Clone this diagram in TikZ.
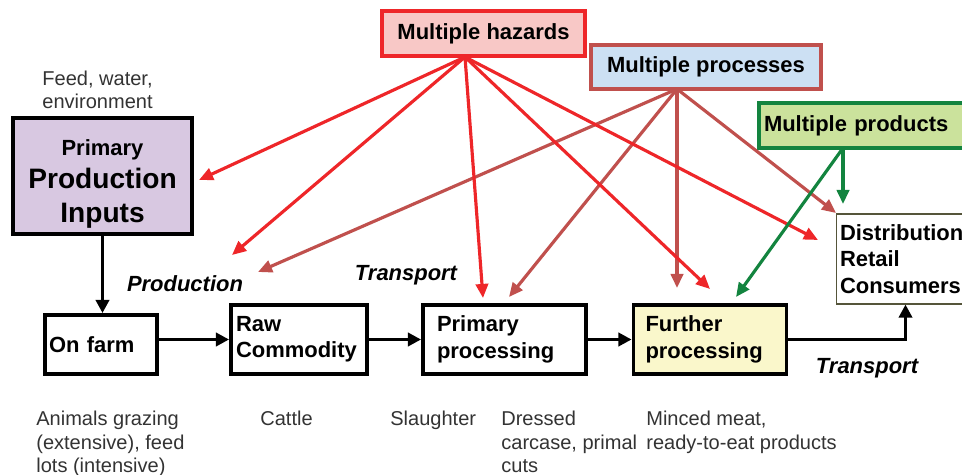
\documentclass[tikz,border=0pt]{standalone}
\usepackage{fontspec}
\setmainfont{Liberation Sans}
\usepackage{tikz}
\usetikzlibrary{arrows.meta}
\definecolor{hazardRed}{HTML}{EE2629}
\definecolor{hazardPink}{HTML}{F8C8C6}
\definecolor{processRed}{HTML}{C0504D}
\definecolor{processBlue}{HTML}{CCE0F3}
\definecolor{productGreen}{HTML}{13843F}
\definecolor{productLime}{HTML}{CBE29C}
\definecolor{inputLilac}{HTML}{D8C8E1}
\definecolor{furtherYellow}{HTML}{FAF7CB}
\definecolor{noteGrey}{HTML}{333333}
\definecolor{retailLine}{HTML}{55553A}

\begin{document}
\begin{tikzpicture}[x=0.02cm, y=-0.02cm,
  boxfont/.style={font=\fontsize{12.5}{15}\selectfont\bfseries},
  stage/.style={boxfont, draw=black, line width=2.2pt, align=left, minimum height=1.38cm},
  tag/.style={boxfont, minimum height=0.9cm},
  note/.style={font=\fontsize{11.4}{13.3}\selectfont, text=noteGrey, align=left, anchor=north west, inner sep=0pt},
  leg/.style={font=\fontsize{12.5}{15}\selectfont\bfseries\itshape},
  flow/.style={line width=2.2pt, -{Triangle[length=7.5pt,width=7.5pt]}},
  hz/.style={hazardRed, line width=1.8pt, -{Triangle[length=8pt,width=7pt]}},
  pr/.style={processRed, line width=1.8pt, -{Triangle[length=8pt,width=7pt]}},
  pd/.style={productGreen, line width=1.8pt, -{Triangle[length=8pt,width=7pt]}}]
  \useasboundingbox (0,0) rectangle (962,475);
  \clip (0,0) rectangle (962,475);

  % boxes of the chain
  \node[stage, fill=inputLilac, align=center, minimum width=3.58cm, minimum height=2.24cm] (inputs) at (102.5,176)
    {\rule{0pt}{18pt}Primary\\[4pt]{\fontsize{16}{19}\selectfont Production}\\[4pt]{\fontsize{16}{19}\selectfont Inputs}};
  \node[stage, minimum height=1.18cm, inner xsep=0.08cm, text width=2.08cm] (farm) at (101,344.5) {On farm};
  \node[stage, inner xsep=0.1cm, text width=2.52cm] (raw) at (299,339.5) {Raw\\Commodity};
  \node[stage, inner xsep=0.28cm, text width=2.7cm] (primary) at (504.5,339.5) {Primary\\processing};
  \node[stage, fill=furtherYellow, inner xsep=0.24cm, text width=2.58cm] (further) at (710,339.5) {Further\\processing};
  \node[boxfont, draw=retailLine, line width=0.6pt, fill=white, align=left, minimum height=1.8cm,
    inner xsep=0.08cm, text width=2.62cm] (retail) at (905.5,259) {Distribution\\Retail\\Consumers};

  % the three sources
  \node[tag, draw=hazardRed, fill=hazardPink, line width=2.2pt, minimum width=4.06cm] (hazards) at (483.5,33.5) {Multiple hazards};
  \node[tag, draw=processRed, fill=processBlue, line width=1.8pt, minimum width=4.6cm, minimum height=0.88cm] (processes) at (706,67) {Multiple processes};
  \node[tag, draw=productGreen, fill=productLime, line width=2pt, align=left, inner xsep=0.1cm, text width=4.12cm] (products) at (867,125.5) {Multiple products};

  % labels
  \node[note, align=center, anchor=center] (feed) at (97.5,90) {Feed, water,\\environment};
  \node[leg] (production) at (185,284) {Production};
  \node[leg] (transA) at (406,275) {Transport};
  \node[leg] (transB) at (867,368) {Transport};
  \node[note] (animals) at (36,411) {Animals grazing\\(extensive), feed\\lots (intensive)};
  \node[note] (cattle) at (260,411) {Cattle};
  \node[note] (slaughter) at (390,411) {Slaughter};
  \node[note] (dressed) at (501,411) {Dressed\\carcase, primal\\cuts};
  \node[note] (minced) at (646,411) {Minced meat,\\ready-to-eat products};

  % feet and ends of the arrows
  \coordinate (hzFoot) at (465,57);
  \coordinate (prFoot) at (677,89);
  \coordinate (pdFoot) at (843,148);
  \coordinate (hzInputs) at (199,180);
  \coordinate (hzRaw) at (232,255);
  \coordinate (hzPrimary) at (483,298);
  \coordinate (hzFurther) at (710,289);
  \coordinate (hzRetail) at (818,240);
  \coordinate (prRaw) at (258,272);
  \coordinate (prPrimary) at (509,297);
  \coordinate (prFurther) at (677,288);
  \coordinate (prRetail) at (836,213);
  \coordinate (pdRetail) at (843,204);
  \coordinate (pdFurther) at (736,297);

  \draw[pr] (prFoot) -- (prRaw);
  \draw[pr] (prFoot) -- (prPrimary);
  \draw[pr] (prFoot) -- (prFurther);
  \draw[pr] (prFoot) -- (prRetail);
  \draw[hz] (hzFoot) -- (hzInputs);
  \draw[hz] (hzFoot) -- (hzRaw);
  \draw[hz] (hzFoot) -- (hzPrimary);
  \draw[hz] (hzFoot) -- (hzFurther);
  \draw[hz] (hzFoot) -- (hzRetail);
  \draw[pd] (pdFoot) -- (pdRetail);
  \draw[pd] (pdFoot) -- (pdFurther);

  % the chain itself
  \draw[flow] (inputs.south) -- (inputs.south |- farm.north);
  \draw[flow] (raw.west -| farm.east) -- (raw.west);
  \draw[flow] (raw.east) -- (primary.west);
  \draw[flow] (primary.east) -- (further.west);
  \draw[flow] (further.east) -| (retail.south);
\end{tikzpicture}
\end{document}
